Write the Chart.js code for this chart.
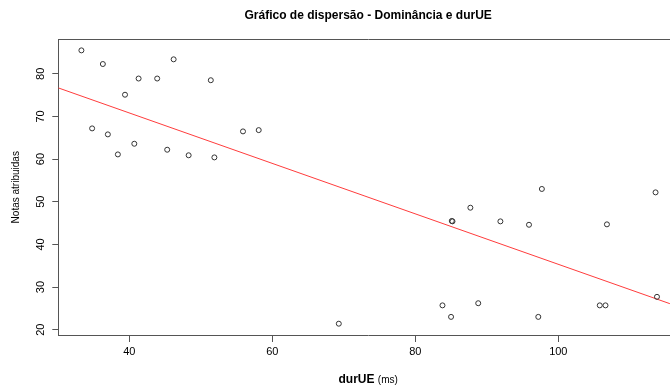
<!DOCTYPE html>
<html>
<head>
<meta charset="utf-8">
<script src="https://cdn.jsdelivr.net/npm/chart.js@4/dist/chart.umd.min.js"></script>
<style>
  html, body { margin: 0; padding: 0; background: #fff; overflow: hidden; }
  #wrap { position: relative; width: 690px; height: 387px; }
</style>
</head>
<body>
<div id="wrap"><canvas id="c"></canvas></div>
<script>
// Data
const durUE = [33.3, 34.8, 36.3, 37.0, 38.4, 39.4, 40.7, 41.3, 43.9, 45.3, 46.2, 48.3, 51.4, 51.9, 55.9, 58.1,
               69.3, 83.8, 85.0, 85.1, 85.2, 87.7, 88.8, 91.9, 95.9, 97.2, 97.7, 105.8, 106.6, 106.8, 113.6, 113.8];
const notas = [85.5, 67.2, 82.3, 65.8, 61.1, 75.1, 63.6, 78.9, 78.9, 62.2, 83.4, 60.9, 78.5, 60.4, 66.5, 66.8,
               21.4, 25.7, 23.0, 45.5, 45.4, 48.6, 26.2, 45.4, 44.6, 23.0, 53.0, 25.7, 25.7, 44.7, 52.2, 27.7];
// Fitted regression line (end points)
const fitX = [30.07, 115.6];
const fitY = [76.7, 26.1];
// Axis tick values
const xTicks = [40, 60, 80, 100];
const yTicks = [20, 30, 40, 50, 60, 70, 80];

const titleText = 'Gráfico de dispersão - Dominância e durUE';
const xLabelMain = 'durUE';
const xLabelUnit = '(ms)';
const yLabel = 'Notas atribuidas';

const FONT = "'Liberation Sans', Arial, Helvetica, sans-serif";
const AXIS = '#555';

const xMin = 30.07, xMax = 116.74, yMin = 18.75, yMax = 88.05;

const xLabelPlugin = {
  id: 'xLabel',
  afterDraw(chart) {
    const ctx = chart.ctx;
    const ca = chart.chartArea;
    ctx.save();
    ctx.fillStyle = '#000';
    ctx.textBaseline = 'alphabetic';
    const f1 = 'bold 12px ' + FONT;
    const f2 = '10px ' + FONT;
    ctx.font = f1; const w1 = ctx.measureText(xLabelMain + ' ').width;
    ctx.font = f2; const w2 = ctx.measureText(xLabelUnit).width;
    const cx = (ca.left + ca.right) / 2;
    let x = cx - (w1 + w2) / 2;
    const y = ca.bottom + 48;
    ctx.font = f1; ctx.textAlign = 'left';
    ctx.fillText(xLabelMain, x, y);
    ctx.font = f2;
    ctx.fillText(xLabelUnit, x + w1, y);
    ctx.restore();
  }
};

new Chart(document.getElementById('c'), {
  type: 'scatter',
  data: {
    datasets: [
      {
        type: 'scatter',
        data: durUE.map((x, i) => ({ x: x, y: notas[i] })),
        pointStyle: 'circle',
        pointRadius: 2.5,
        pointHoverRadius: 2.5,
        borderWidth: 1,
        borderColor: '#333',
        backgroundColor: 'rgba(0,0,0,0)',
        order: 1
      },
      {
        type: 'line',
        data: fitX.map((x, i) => ({ x: x, y: fitY[i] })),
        borderColor: 'rgb(255,60,60)',
        borderWidth: 1,
        pointRadius: 0,
        fill: false,
        tension: 0,
        order: 2
      }
    ]
  },
  options: {
    responsive: true,
    maintainAspectRatio: false,
    animation: false,
    devicePixelRatio: 1,
    layout: { padding: { left: 0, right: 12, top: 0, bottom: 0 } },
    plugins: { legend: { display: false }, tooltip: { enabled: false }, title: { display: false } },
    scales: {
      x: {
        type: 'linear', position: 'bottom', min: xMin, max: xMax,
        afterBuildTicks: s => { s.ticks = xTicks.map(v => ({ value: v })); },
        ticks: { includeBounds: false, color: '#000', font: { family: FONT, size: 11 }, padding: 3, maxRotation: 0 },
        grid: { drawOnChartArea: false, tickLength: 7, color: AXIS, tickColor: AXIS },
        border: { display: true, color: AXIS, width: 1 },
        afterFit: s => { s.height = 52; }
      },
      x2: {
        type: 'linear', position: 'top', min: xMin, max: xMax,
        ticks: { display: false },
        grid: { drawOnChartArea: false, drawTicks: false, tickLength: 0 },
        border: { display: true, color: AXIS, width: 1 },
        title: { display: true, text: titleText, color: '#000', font: { family: FONT, size: 12, weight: 'bold' }, padding: { top: 8, bottom: 0 } },
        afterFit: s => { s.height = 39.5; }
      },
      y: {
        type: 'linear', position: 'left', min: yMin, max: yMax,
        afterBuildTicks: s => { s.ticks = yTicks.map(v => ({ value: v })); },
        ticks: { includeBounds: false, color: '#000', font: { family: FONT, size: 11 }, minRotation: 90, maxRotation: 90, crossAlign: 'center', padding: 5 },
        grid: { drawOnChartArea: false, tickLength: 6, color: AXIS, tickColor: AXIS },
        border: { display: true, color: AXIS, width: 1 },
        title: { display: true, text: yLabel, color: '#000', font: { family: FONT, size: 10 }, padding: { top: 10, bottom: 0 } },
        afterFit: s => { s.width = 58.3; }
      }
    }
  },
  plugins: [xLabelPlugin]
});
</script>
</body>
</html>
